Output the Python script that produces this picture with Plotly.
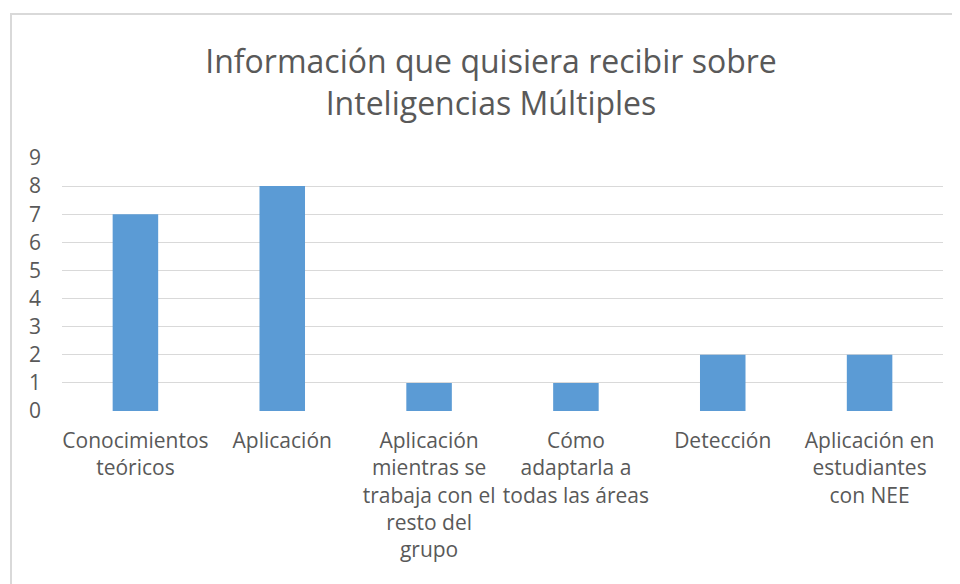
import plotly.graph_objects as go

categorias = ["Conocimientos teóricos", "Aplicación",
              "Aplicación mientras se trabaja con el resto del grupo",
              "Cómo adaptarla a todas las áreas", "Detección",
              "Aplicación en estudiantes con NEE"]
etiquetas = ["Conocimientos<br>teóricos", "Aplicación",
             "Aplicación<br>mientras se<br>trabaja con el<br>resto del<br>grupo",
             "Cómo<br>adaptarla a<br>todas las áreas", "Detección",
             "Aplicación en<br>estudiantes<br>con NEE"]
valores = [7, 8, 1, 1, 2, 2]
ticks_y = list(range(0, 10))

gris = "#595959"
fuente = "Open Sans"

fig = go.Figure(go.Bar(x=categorias, y=valores, marker_color="#5b9bd5",
                       marker_line_width=0, width=0.31))

# la pagina tiene 8px de margen en body
fig.update_layout(
    width=960, height=584,
    margin=dict(l=54, r=25, t=150, b=181),
    paper_bgcolor="white", plot_bgcolor="white",
    showlegend=False,
    title=dict(text="Información que quisiera recibir sobre<br>Inteligencias Múltiples",
               x=483/960, xanchor="center", xref="container",
               y=1-65/584, yanchor="top", yref="container",
               font=dict(family=fuente, size=32, color=gris)),
    font=dict(family=fuente, color=gris),
)
fig.update_xaxes(tickvals=categorias, ticktext=etiquetas, tickangle=0,
                 tickfont=dict(size=21, color=gris), showgrid=False,
                 showline=False, ticks="", ticklabelstandoff=15)
fig.update_yaxes(range=[0, 9], tickvals=ticks_y, showgrid=True, gridcolor="#d9d9d9",
                 gridwidth=1, zeroline=False, showline=False, ticks="",
                 tickfont=dict(size=21, color=gris), ticklabelstandoff=20)

# borde del area del grafico
fig.add_shape(type="rect", xref="paper", yref="paper",
              x0=(11-62)/881, x1=2, y0=-2, y1=1+(158-14)/253,
              line=dict(color="#d9d9d9", width=2), fillcolor="rgba(0,0,0,0)", layer="below")

fig.write_html("out.html")
